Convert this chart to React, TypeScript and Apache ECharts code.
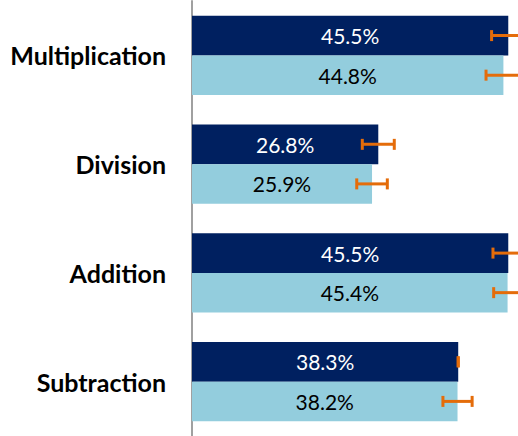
import React, { useEffect, useRef } from "react";
import * as echarts from "echarts";

const categories = ["Multiplication", "Division", "Addition", "Subtraction"];
const seriesDark = [45.5, 26.8, 45.5, 38.3];
const seriesLight = [44.8, 25.9, 45.4, 38.2];
const errDark = [2.4, 2.3, 2.2, 0];
const errLight = [2.5, 2.2, 2.0, 2.1];

const DARK = "#002060";
const LIGHT = "#93CDDD";
const ORANGE = "#E46C0A";

export default function App() {
  const ref = useRef<HTMLDivElement>(null);
  useEffect(() => {
    if (!ref.current) return;
    const chart = echarts.init(ref.current, null, { renderer: "svg" });
    const errData = (vals: number[], errs: number[], off: number) =>
      vals.map((v, i) => [v, i, errs[i], off]);
    const renderErr = (params: any, api: any) => {
      const v = api.value(0);
      const ci = api.value(1);
      const e = api.value(2);
      const off = api.value(3);
      const band = api.size([0, 1])[1];
      const c = api.coord([v, ci]);
      const y = c[1] + off * band * (20 / 110);
      const lo = api.coord([v - e, ci])[0];
      const hi = api.coord([v + e, ci])[0];
      const style = { stroke: ORANGE, lineWidth: 3, fill: null };
      return {
        type: "group",
        children: [
          { type: "line", shape: { x1: lo, y1: y, x2: hi, y2: y }, style },
          { type: "line", shape: { x1: lo, y1: y - 5.5, x2: lo, y2: y + 5.5 }, style },
          { type: "line", shape: { x1: hi, y1: y - 5.5, x2: hi, y2: y + 5.5 }, style },
        ],
      };
    };
    const labelFmt = (p: any) => p.value.toFixed(1) + "%";
    chart.setOption({
      animation: false,
      grid: { left: 192, width: 326, top: 1, height: 440, containLabel: false },
      xAxis: {
        type: "value",
        min: 0,
        max: 46.9,
        show: false,
      },
      yAxis: {
        type: "category",
        data: categories,
        inverse: true,
        axisLine: { show: true, lineStyle: { color: "#A0A0A0", width: 2 } },
        axisTick: { show: false },
        axisLabel: {
          margin: 26,
          fontFamily: "Lato",
          fontWeight: "bold",
          fontSize: 25,
          color: "#000000",
        },
        splitLine: { show: false },
      },
      series: [
        {
          type: "bar",
          data: seriesDark,
          barGap: "0%",
          barCategoryGap: "27.27%",
          itemStyle: { color: DARK },
          label: {
            show: true,
            position: "inside",
            formatter: labelFmt,
            color: "#FFFFFF",
            fontFamily: "Lato",
            fontSize: 21,
          },
        },
        {
          type: "bar",
          data: seriesLight,
          barGap: "0%",
          barCategoryGap: "27.27%",
          itemStyle: { color: LIGHT },
          label: {
            show: true,
            position: "inside",
            formatter: labelFmt,
            color: "#000000",
            fontFamily: "Lato",
            fontSize: 21,
          },
        },
        {
          type: "custom",
          data: errData(seriesDark, errDark, -1),
          encode: { x: 0, y: 1 },
          renderItem: renderErr,
          z: 5,
          clip: false,
        },
        {
          type: "custom",
          data: errData(seriesLight, errLight, 1),
          encode: { x: 0, y: 1 },
          renderItem: renderErr,
          z: 5,
          clip: false,
        },
      ],
    });
    return () => chart.dispose();
  }, []);
  return (
    <div
      ref={ref}
      style={{ position: "fixed", left: 0, top: 0, width: 518, height: 436, background: "#fff" }}
    />
  );
}
